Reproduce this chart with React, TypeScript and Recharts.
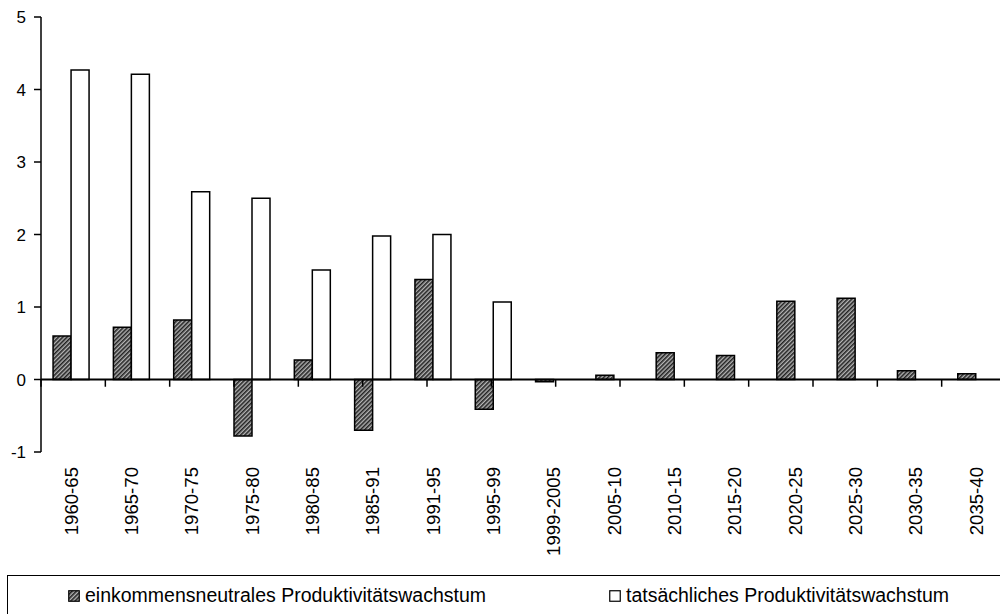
import React from 'react';
import { BarChart, Bar, XAxis, YAxis, ReferenceLine, Legend } from 'recharts';

const periods = ['1960-65', '1965-70', '1970-75', '1975-80', '1980-85', '1985-91', '1991-95', '1995-99', '1999-2005', '2005-10', '2010-15', '2015-20', '2020-25', '2025-30', '2030-35', '2035-40'];
const neutralGrowth = [0.60, 0.72, 0.82, -0.78, 0.27, -0.70, 1.38, -0.41, -0.03, 0.06, 0.37, 0.33, 1.08, 1.12, 0.12, 0.08];
const actualGrowth: (number | null)[] = [4.27, 4.21, 2.59, 2.50, 1.51, 1.98, 2.00, 1.07, null, null, null, null, null, null, null, null];
const yTicks = [-1, 0, 1, 2, 3, 4, 5];
const seriesNames = ['einkommensneutrales Produktivitätswachstum', 'tatsächliches Produktivitätswachstum'];
const boundaries = Array.from({ length: periods.length + 1 }, (_, i) => i);

const data = periods.map((p, i) => ({ period: p, neutral: neutralGrowth[i], actual: actualGrowth[i] }));

const FONT = '"Liberation Sans", Arial, sans-serif';

const XTick = (props: any) => {
  const { x, y, payload } = props;
  return (
    <g transform={`translate(${x},${y})`}>
      <text transform="rotate(-90)" textAnchor="end" dy="0.36em" fontSize={18.6} fontFamily={FONT} fill="#000">
        {payload.value}
      </text>
    </g>
  );
};

const legendLeft = [60, 601];

const HatchPattern = ({ id }: { id: string }) => (
  <pattern id={id} width="3" height="3" patternUnits="userSpaceOnUse" patternTransform="rotate(45)">
    <rect width="3" height="3" fill="#b4b4b4" />
    <line x1="0.8" y1="0" x2="0.8" y2="3" stroke="#1a1a1a" strokeWidth="1.5" />
  </pattern>
);

const LegendContent = () => (
  <div style={{ position: 'relative', width: '100%', height: '100%', border: '1.5px solid #000', boxSizing: 'border-box', fontFamily: FONT, fontSize: 19.5, color: '#000' }}>
    {seriesNames.map((name, i) => (
      <div key={name} style={{ position: 'absolute', left: legendLeft[i], top: 8, display: 'flex', alignItems: 'center', whiteSpace: 'nowrap' }}>
        <svg width={12} height={12} style={{ marginRight: 5 }}>
          <defs>
            <HatchPattern id={`lh${i}`} />
          </defs>
          <rect x={0.75} y={0.75} width={10.5} height={10.5} fill={i === 0 ? `url(#lh${i})` : '#fff'} stroke="#000" strokeWidth={1.2} />
        </svg>
        <span>{name}</span>
      </div>
    ))}
  </div>
);

export default function App() {
  return (
    <div style={{ position: 'absolute', left: 0, top: 0, width: 1000, height: 614, overflow: 'hidden', background: '#fff' }}>
      <BarChart
        width={1020}
        height={614}
        data={data}
        margin={{ top: 17, right: 14, bottom: 0, left: 0 }}
        barCategoryGap="20%"
        barGap={0}
      >
        <defs>
          <HatchPattern id="hatch" />
        </defs>
        <XAxis
          dataKey="period"
          interval={0}
          axisLine={false}
          tickLine={false}
          tickSize={0}
          tickMargin={15}
          height={162}
          tick={<XTick />}
        />
        <XAxis xAxisId="b" type="number" domain={[0, periods.length]} hide />
        <YAxis
          domain={[-1, 5]}
          ticks={yTicks}
          width={41}
          interval={0}
          axisLine={{ stroke: '#000', strokeWidth: 1.5 }}
          tickLine={{ stroke: '#000', strokeWidth: 1.5 }}
          tickSize={7}
          tickMargin={8}
          tick={{ fill: '#000', fontSize: 17, fontFamily: FONT }}
        />
        <Bar dataKey="neutral" name={seriesNames[0]} fill="url(#hatch)" stroke="#000" strokeWidth={1.5} isAnimationActive={false} />
        <Bar dataKey="actual" name={seriesNames[1]} fill="#fff" stroke="#000" strokeWidth={1.5} isAnimationActive={false} />
        <ReferenceLine y={0} stroke="#000" strokeWidth={2} ifOverflow="extendDomain" />
        {boundaries.map((b) => (
          <ReferenceLine
            key={b}
            xAxisId="b"
            segment={[{ x: b, y: 0 }, { x: b, y: -0.1 }]}
            stroke="#000"
            strokeWidth={1.5}
          />
        ))}
        <Legend
          layout="horizontal"
          verticalAlign="middle"
          align="center"
          wrapperStyle={{ position: 'absolute', left: 7, top: 575, width: 1020, height: 60 }}
          content={<LegendContent />}
        />
      </BarChart>
    </div>
  );
}
